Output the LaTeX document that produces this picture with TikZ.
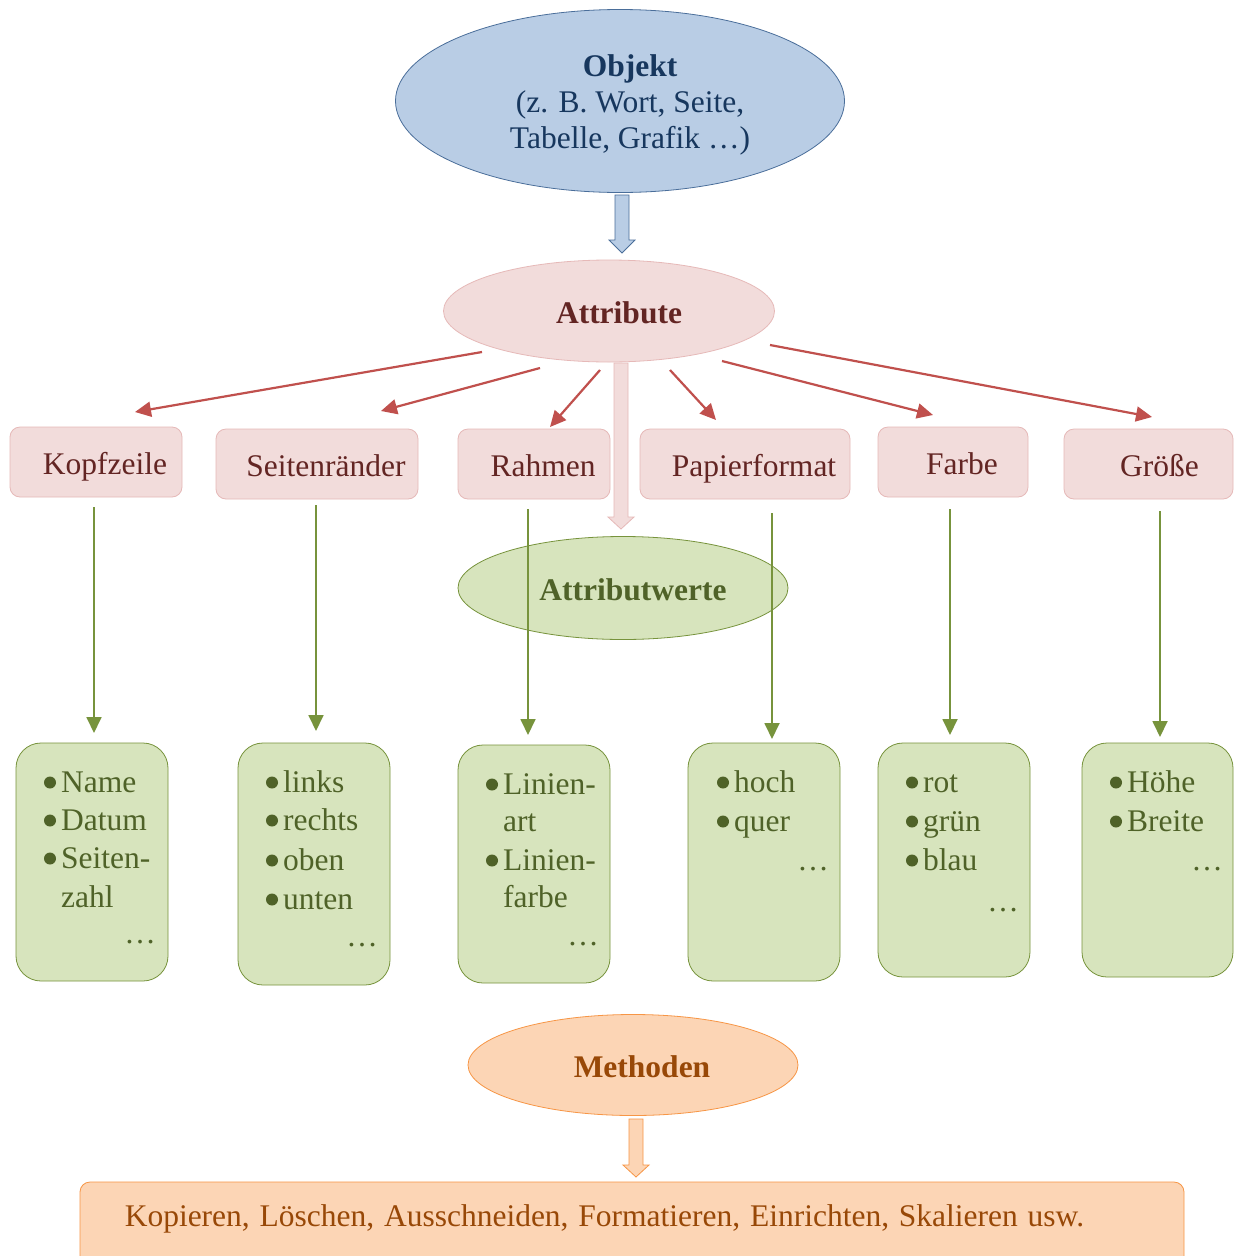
\documentclass[tikz,border=0pt]{standalone}
\usepackage{fontspec}
\setmainfont{Liberation Serif}
\usetikzlibrary{shapes.geometric,arrows.meta}
\definecolor{bluefill}{HTML}{B9CDE5}
\definecolor{blueline}{HTML}{4A6E9A}
\definecolor{bluetext}{HTML}{17375E}
\definecolor{pinkfill}{HTML}{F2DCDB}
\definecolor{pinkline}{HTML}{E6B9B8}
\definecolor{pinktext}{HTML}{632523}
\definecolor{greenfill}{HTML}{D7E4BD}
\definecolor{greenline}{HTML}{77933C}
\definecolor{greentext}{HTML}{4F6228}
\definecolor{orangefill}{HTML}{FCD5B5}
\definecolor{orangeline}{HTML}{F79646}
\definecolor{orangetext}{HTML}{984807}
\definecolor{redarrow}{HTML}{C0504D}
\newcommand\bigfont{\fontsize{31.5}{38}\selectfont}
\newcommand\blockarr[5]{%
  \draw[#4,line width=0.8pt] (#1-7,#2) -- (#1+7,#2) -- (#1+7,#3-#5) -- (#1+13,#3-#5) -- (#1,#3)
    -- (#1-13,#3-#5) -- (#1-7,#3-#5) -- cycle;}
\newcommand\vitem[4]{%
  \node[circle,fill=greentext,inner sep=0pt,minimum size=12pt] (#1b) at (#2,#3-9.5) {};
  \node[valtext,anchor=base west] (#1) at (#2+11,#3) {#4};}
\tikzset{
  valtext/.style={inner sep=0pt,text=greentext,font=\bigfont},
  attrbox/.style={draw=pinkline,fill=pinkfill,rounded corners=10pt,line width=0.8pt,
    minimum height=70pt,inner sep=0pt,text=pinktext,font=\bigfont,text height=24pt,text depth=0pt},
  valbox/.style={draw=greenline,fill=greenfill,rounded corners=25pt,line width=0.8pt,
    minimum width=152pt,inner sep=0pt},
  ell/.style={ellipse,inner sep=0pt,line width=0.8pt,font=\bfseries\bigfont,text height=24pt,text depth=0pt},
  redarr/.style={draw=redarrow,line width=2.2pt,-{Triangle[length=16pt,width=15pt]}},
  greenarr/.style={draw=greenline,line width=1.8pt,-{Triangle[length=16pt,width=15pt]}},
}
\begin{document}
\begin{tikzpicture}[x=1pt,y=-1pt]
\useasboundingbox[fill=white] (0,0) rectangle (1234,1256);

% Objekt
\node[ell,draw=blueline,fill=bluefill,minimum width=449pt,minimum height=183pt] (obj) at (620,101) {};
\node[anchor=base,inner sep=0pt,text=bluetext,font=\bfseries\bigfont] (objt1) at (630,76) {Objekt};
\node[anchor=base,inner sep=0pt,text=bluetext,font=\bigfont] (objt2) at (630,112) {(z. B. Wort, Seite,};
\node[anchor=base,inner sep=0pt,text=bluetext,font=\bigfont] (objt3) at (630,148) {Tabelle, Grafik …)};

\blockarr{622}{195}{253}{draw=blueline,fill=bluefill}{13}

% Attribute
\node[ell,draw=pinkline,fill=pinkfill,text=pinktext,minimum width=331pt,minimum height=102pt] (attr) at (609,311) {\hspace*{20pt}Attribute};

% Attribute boxes
\node[attrbox,minimum width=172pt] (kopf) at (96,462) {\hspace*{18pt}Kopfzeile};
\node[attrbox,minimum width=202pt] (seit) at (317,464) {\hspace*{18pt}Seitenränder};
\node[attrbox,minimum width=152pt] (rahm) at (534,464) {\hspace*{18pt}Rahmen};
\node[attrbox,minimum width=210pt] (papi) at (745,464) {\hspace*{18pt}Papierformat};
\node[attrbox,minimum width=150pt] (farb) at (953,462) {\hspace*{18pt}Farbe};
\node[attrbox,minimum width=169pt] (groe) at (1148.5,464) {\hspace*{22pt}Größe};

% red arrows
\coordinate (r1s) at (482,352); \coordinate (r1e) at (135,412);
\coordinate (r2s) at (540,368); \coordinate (r2e) at (381,411);
\coordinate (r3s) at (600,370); \coordinate (r3e) at (550,427);
\coordinate (r4s) at (670,370); \coordinate (r4e) at (716,420);
\coordinate (r5s) at (722,361); \coordinate (r5e) at (933,415);
\coordinate (r6s) at (770,345); \coordinate (r6e) at (1152,417);
\foreach \i in {1,...,6} {\draw[redarr] (r\i s) -- (r\i e);}

% pink block arrow
\blockarr{621}{363}{529}{draw=pinkline,fill=pinkfill}{12}

% Attributwerte
\node[ell,draw=greenline,fill=greenfill,text=greentext,minimum width=330pt,minimum height=103pt] (werte) at (623,588) {\hspace*{20pt}Attributwerte};

% value boxes
\node[valbox,minimum height=238pt] (v1) at (92,862) {};
\node[valbox,minimum height=242pt] (v2) at (314,864) {};
\node[valbox,minimum height=238pt] (v3) at (534,864) {};
\node[valbox,minimum height=238pt] (v4) at (764,862) {};
\node[valbox,minimum height=234pt] (v5) at (954,860) {};
\node[valbox,minimum width=151pt,minimum height=234pt] (v6) at (1157.5,860) {};

% green arrows
\coordinate (g1s) at (94,507);   \coordinate (g1e) at (94,733);
\coordinate (g2s) at (316,505);  \coordinate (g2e) at (316,731);
\coordinate (g3s) at (528,509);  \coordinate (g3e) at (528,735);
\coordinate (g4s) at (772,513);  \coordinate (g4e) at (772,739);
\coordinate (g5s) at (950,509);  \coordinate (g5e) at (950,735);
\coordinate (g6s) at (1160,511); \coordinate (g6e) at (1160,737);
\foreach \i in {1,...,6} {\draw[greenarr] (g\i s) -- (g\i e);}

% box 1
\vitem{a1}{50}{792}{Name}
\vitem{a2}{50}{830}{Datum}
\vitem{a3}{50}{868}{Seiten-}
\node[valtext,anchor=base west] (a4) at (61,907) {zahl};
\node[valtext,anchor=base east] (a5) at (156,943) {…};
% box 2
\vitem{b1}{272}{792}{links}
\vitem{b2}{272}{830}{rechts}
\vitem{b3}{272}{870}{oben}
\vitem{b4}{272}{909}{unten}
\node[valtext,anchor=base east] (b5) at (378,946) {…};
% box 3
\vitem{c1}{492}{794}{Linien-}
\node[valtext,anchor=base west] (c2) at (503,831) {art};
\vitem{c3}{492}{870}{Linien-}
\node[valtext,anchor=base west] (c4) at (503,907) {farbe};
\node[valtext,anchor=base east] (c5) at (599,945) {…};
% box 4
\vitem{d1}{723}{792}{hoch}
\vitem{d2}{723}{831}{quer}
\node[valtext,anchor=base east] (d3) at (829,870) {…};
% box 5
\vitem{e1}{912}{792}{rot}
\vitem{e2}{912}{831}{grün}
\vitem{e3}{912}{870}{blau}
\node[valtext,anchor=base east] (e4) at (1019,911) {…};
% box 6
\vitem{f1}{1116}{792}{Höhe}
\vitem{f2}{1116}{831}{Breite}
\node[valtext,anchor=base east] (f3) at (1223,870) {…};

% Methoden
\node[ell,draw=orangeline,fill=orangefill,text=orangetext,minimum width=330pt,minimum height=101pt] (meth) at (633,1065) {\hspace*{18pt}Methoden};
\blockarr{636}{1119}{1177}{draw=orangeline,fill=orangefill}{12}

\node[draw=orangeline,fill=orangefill,rounded corners=10pt,line width=0.8pt,minimum width=1104pt,minimum height=84pt,inner sep=0pt] (mlist) at (632,1224) {};
\node[anchor=base,inner sep=0pt,text=orangetext,font=\bigfont] (mlistt) at (604.5,1226) {\spaceskip=9.8pt plus 1pt Kopieren, Löschen, Ausschneiden, Formatieren, Einrichten, Skalieren usw.};
\end{tikzpicture}
\end{document}
